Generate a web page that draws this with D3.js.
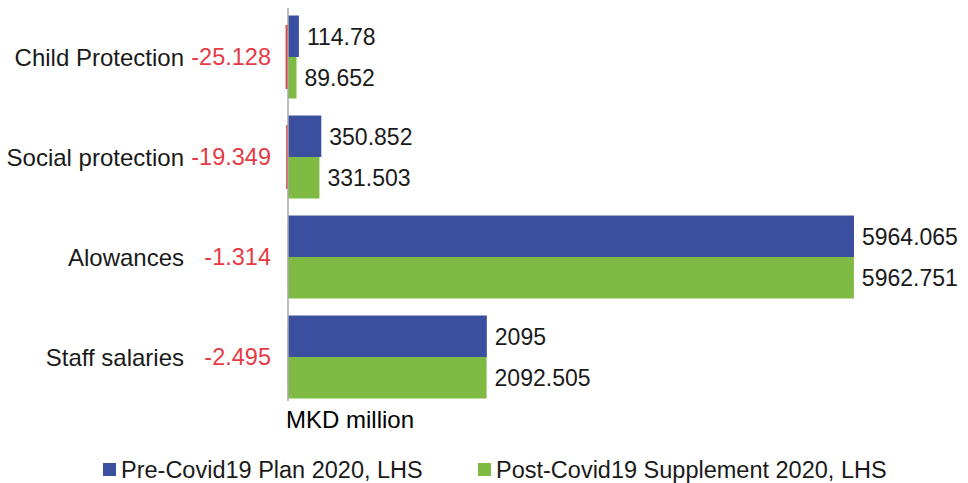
<!DOCTYPE html>
<html>
<head>
<meta charset="utf-8">
<script src="https://cdn.jsdelivr.net/npm/d3@7"></script>
<style>
  html, body { margin: 0; padding: 0; background: #fff; }
  svg { display: block; font-family: "Liberation Sans", Arial, sans-serif; }
</style>
</head>
<body>
<svg id="chart" width="968" height="483"></svg>
<script>
const categories = ["Child Protection", "Social protection", "Alowances", "Staff salaries"];
const preCovid = [114.78, 350.852, 5964.065, 2095];
const postCovid = [89.652, 331.503, 5962.751, 2092.505];
const difference = [-25.128, -19.349, -1.314, -2.495];
const seriesNames = ["Pre-Covid19 Plan 2020, LHS", "Post-Covid19 Supplement 2020, LHS"];
const xDomain = [0, 6000];

const colors = { pre: "#3b4fa1", post: "#7fbb42", diff: "#e63a44", text: "#1a1a1a", axis: "#a8a8a8" };

const svg = d3.select("#chart");

const x = d3.scaleLinear().domain(xDomain).range([288, 857.4]);
const y = d3.scaleBand().domain(categories).range([7, 407]).padding(0);
const inner = d3.scaleBand().domain(["pre", "post"]).range([0, y.bandwidth()]).paddingInner(0).paddingOuter(0.205);

const rows = categories.map((c, i) => ({ cat: c, pre: preCovid[i], post: postCovid[i], diff: difference[i] }));

const g = svg.append("g");

// difference bars (wider band)
const diffH = y.bandwidth() * 0.64;
g.selectAll("rect.diff").data(rows).join("rect")
  .attr("class", "diff")
  .attr("x", d => x(Math.min(0, d.diff)))
  .attr("width", d => Math.abs(x(d.diff) - x(0)))
  .attr("y", d => y(d.cat) + (y.bandwidth() - diffH) / 2)
  .attr("height", diffH)
  .attr("fill", colors.diff);

// main bars
["pre", "post"].forEach(key => {
  g.selectAll("rect." + key).data(rows).join("rect")
    .attr("class", key)
    .attr("x", x(0))
    .attr("width", d => x(d[key]) - x(0))
    .attr("y", d => y(d.cat) + inner(key))
    .attr("height", inner.bandwidth())
    .attr("fill", colors[key]);

  g.selectAll("text.v" + key).data(rows).join("text")
    .attr("class", "v" + key)
    .attr("x", d => x(d[key]) + 8)
    .attr("y", d => y(d.cat) + inner(key) + inner.bandwidth() / 2)
    .attr("dy", "0.36em")
    .attr("font-size", 23)
    .attr("fill", colors.text)
    .text(d => String(d[key]));
});

// vertical axis
const yAxis = d3.axisLeft(y).tickSize(0).tickFormat("");
const axisG = svg.append("g").attr("transform", `translate(${x(0)},0)`).call(yAxis);
axisG.select(".domain").attr("stroke", colors.axis).attr("stroke-width", 1.5)
  .attr("d", "M0,8V401");

// category labels
svg.selectAll("text.cat").data(rows).join("text")
  .attr("class", "cat")
  .attr("x", 184)
  .attr("y", d => y(d.cat) + y.bandwidth() / 2)
  .attr("dy", "0.36em")
  .attr("text-anchor", "end")
  .attr("font-size", 24)
  .attr("fill", colors.text)
  .text(d => d.cat);

// difference labels
svg.selectAll("text.diffl").data(rows).join("text")
  .attr("class", "diffl")
  .attr("x", 271)
  .attr("y", d => y(d.cat) + y.bandwidth() / 2)
  .attr("dy", "0.36em")
  .attr("text-anchor", "end")
  .attr("font-size", 23.5)
  .attr("fill", colors.diff)
  .text(d => String(d.diff));

// axis unit label
svg.append("text")
  .attr("x", 286).attr("y", 428)
  .attr("font-size", 24)
  .attr("fill", "#000")
  .text("MKD million");

// legend
const legend = [
  { name: seriesNames[0], color: colors.pre, x: 103 },
  { name: seriesNames[1], color: colors.post, x: 478 }
];
const lg = svg.selectAll("g.leg").data(legend).join("g").attr("class", "leg")
  .attr("transform", d => `translate(${d.x},463)`);
lg.append("rect").attr("width", 13).attr("height", 13).attr("fill", d => d.color);
lg.append("text").attr("x", 18).attr("y", 6.5).attr("dy", "0.36em")
  .attr("font-size", 23.5).attr("fill", colors.text).text(d => d.name);
</script>
</body>
</html>
